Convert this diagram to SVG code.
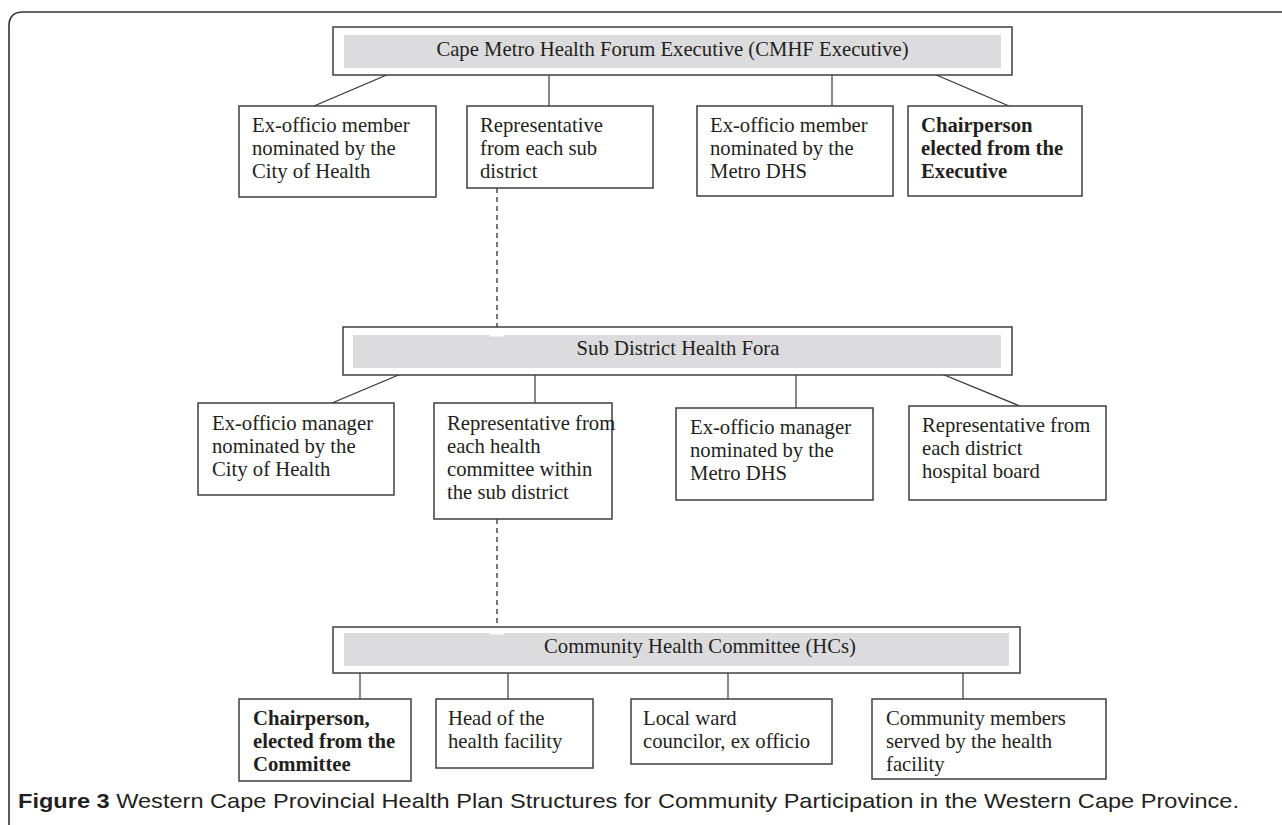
<svg xmlns="http://www.w3.org/2000/svg" width="1282" height="825" viewBox="0 0 1282 825">
<style>
.box{fill:#fff;stroke:#3f3f3f;stroke-width:1.5}
.gray{fill:#dcdcde}
.t{font-family:"Liberation Serif","Times New Roman",serif;font-size:20.7px;fill:#231f20}
.b{font-weight:bold}
.ln{stroke:#333;stroke-width:1.3;fill:none}
.vl{stroke:#555;stroke-width:1.4;fill:none}
.dash{stroke:#333;stroke-width:1.3;stroke-dasharray:5 4;fill:none}
.cap{font-family:"Liberation Sans",Arial,sans-serif;font-size:21px;fill:#231f20}
</style>
<rect width="1282" height="825" fill="#fff"/>
<path d="M9 826 V26 Q9 12 23 12 H1283" fill="none" stroke="#333" stroke-width="1.6"/>

<g id="connectors">
<line class="ln" x1="396" y1="71" x2="314" y2="106"/>
<line class="vl" x1="549" y1="75" x2="549" y2="106"/>
<line class="vl" x1="832" y1="75" x2="832" y2="106"/>
<line class="ln" x1="927" y1="71" x2="1009" y2="106"/>
<line class="dash" x1="497" y1="188" x2="497" y2="327"/>
<line class="ln" x1="408" y1="371" x2="332" y2="403"/>
<line class="vl" x1="535" y1="375" x2="535" y2="403"/>
<line class="vl" x1="796" y1="375" x2="796" y2="408"/>
<line class="ln" x1="937" y1="372" x2="1020" y2="406"/>
<line class="dash" x1="497" y1="519" x2="497" y2="627"/>
<line class="vl" x1="360" y1="673" x2="360" y2="699"/>
<line class="vl" x1="508" y1="673" x2="508" y2="699"/>
<line class="vl" x1="728" y1="673" x2="728" y2="699"/>
<line class="vl" x1="963" y1="673" x2="963" y2="699"/>
</g>

<g id="cmhf">
<rect class="box" x="333" y="27" width="679" height="48"/>
<rect class="gray" x="344" y="35" width="657" height="33"/>
<text class="t" x="672.5" y="56" text-anchor="middle">Cape Metro Health Forum Executive (CMHF Executive)</text>
</g>
<g id="n1a">
<rect class="box" x="239" y="106" width="197" height="91"/>
<text class="t" x="252" y="132">Ex-officio member</text>
<text class="t" x="252" y="155">nominated by the</text>
<text class="t" x="252" y="178">City of Health</text>
</g>
<g id="n1b">
<rect class="box" x="467" y="106" width="186" height="82"/>
<text class="t" x="480" y="132">Representative</text>
<text class="t" x="480" y="155">from each sub</text>
<text class="t" x="480" y="178">district</text>
</g>
<g id="n1c">
<rect class="box" x="697" y="106" width="196" height="90"/>
<text class="t" x="710" y="132">Ex-officio member</text>
<text class="t" x="710" y="155">nominated by the</text>
<text class="t" x="710" y="178">Metro DHS</text>
</g>
<g id="n1d">
<rect class="box" x="908" y="106" width="174" height="90"/>
<text class="t b" x="921" y="132">Chairperson</text>
<text class="t b" x="921" y="155">elected from the</text>
<text class="t b" x="921" y="178">Executive</text>
</g>

<g id="subdistrict">
<rect class="box" x="343" y="327" width="669" height="48"/>
<rect class="gray" x="353" y="335" width="648" height="33"/>
<rect x="490" y="334.5" width="14" height="2" fill="#fff"/>
<text class="t" x="678" y="355" text-anchor="middle">Sub District Health Fora</text>
</g>
<g id="n2a">
<rect class="box" x="198" y="403" width="196" height="92"/>
<text class="t" x="212" y="430">Ex-officio manager</text>
<text class="t" x="212" y="453">nominated by the</text>
<text class="t" x="212" y="476">City of Health</text>
</g>
<g id="n2b">
<rect class="box" x="434" y="403" width="178" height="116"/>
<text class="t" x="447" y="430">Representative from</text>
<text class="t" x="447" y="453">each health</text>
<text class="t" x="447" y="476">committee within</text>
<text class="t" x="447" y="499">the sub district</text>
</g>
<g id="n2c">
<rect class="box" x="676" y="408" width="197" height="92"/>
<text class="t" x="690" y="434">Ex-officio manager</text>
<text class="t" x="690" y="457">nominated by the</text>
<text class="t" x="690" y="480">Metro DHS</text>
</g>
<g id="n2d">
<rect class="box" x="909" y="406" width="197" height="94"/>
<text class="t" x="922" y="432">Representative from</text>
<text class="t" x="922" y="455">each district</text>
<text class="t" x="922" y="478">hospital board</text>
</g>

<g id="hc">
<rect class="box" x="333" y="627" width="687" height="46"/>
<rect class="gray" x="344" y="633" width="665" height="33"/>
<rect x="490" y="632.5" width="14" height="2" fill="#fff"/>
<text class="t" x="544" y="653">Community Health Committee (HCs)</text>
</g>
<g id="n3a">
<rect class="box" x="239" y="699" width="172" height="82"/>
<text class="t b" x="253" y="725">Chairperson,</text>
<text class="t b" x="253" y="748">elected from the</text>
<text class="t b" x="253" y="771">Committee</text>
</g>
<g id="n3b">
<rect class="box" x="436" y="699" width="157" height="69"/>
<text class="t" x="448" y="725">Head of the</text>
<text class="t" x="448" y="748">health facility</text>
</g>
<g id="n3c">
<rect class="box" x="631" y="699" width="201" height="65"/>
<text class="t" x="643" y="725">Local ward</text>
<text class="t" x="643" y="748">councilor, ex officio</text>
</g>
<g id="n3d">
<rect class="box" x="872" y="699" width="234" height="80"/>
<text class="t" x="886" y="725">Community members</text>
<text class="t" x="886" y="748">served by the health</text>
<text class="t" x="886" y="771">facility</text>
</g>

<text class="cap" x="18" y="808" textLength="1221" lengthAdjust="spacingAndGlyphs"><tspan font-weight="bold">Figure 3</tspan> Western Cape Provincial Health Plan Structures for Community Participation in the Western Cape Province.</text>
</svg>
